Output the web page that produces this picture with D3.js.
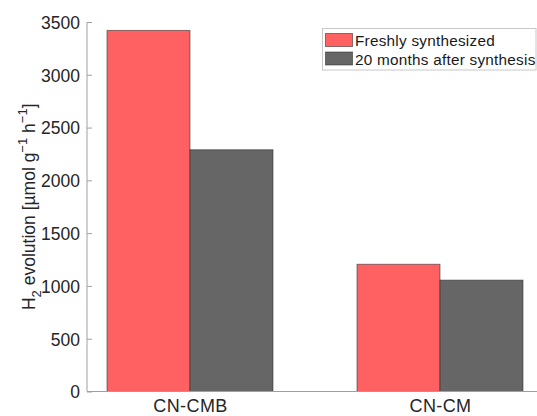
<!DOCTYPE html>
<html>
<head>
<meta charset="utf-8">
<script src="https://cdn.jsdelivr.net/npm/d3@7"></script>
<style>
  html, body { margin: 0; padding: 0; background: #fff; }
  svg { display: block; font-family: "Liberation Sans", Arial, Helvetica, sans-serif; }
</style>
</head>
<body>
<svg id="chart" width="537" height="416"></svg>
<script>
// Samples and their H2 evolution rates (µmol g^-1 h^-1)
const categories = ["CN-CMB", "CN-CM"];
const seriesNames = ["Freshly synthesized", "20 months after synthesis"];
const freshValues = [3420, 1205];
const agedValues = [2290, 1055];
const yTicks = [0, 500, 1000, 1500, 2000, 2500, 3000, 3500];
const seriesColors = ["#ff6163", "#666666"];

const svg = d3.select("#chart");
const plot = { left: 87, right: 537, top: 22, bottom: 391.5 };

// Category positions are 1, 2, ...; x scale in category units
const x = d3.scaleLinear().domain([0.588, 2.388]).range([plot.left, plot.right]);
const y = d3.scaleLinear().domain([0, 3500]).range([plot.bottom, plot.top]);

const barW = 0.332;
const series = [freshValues, agedValues];

// Bars
series.forEach((vals, si) => {
  svg.append("g")
    .selectAll("rect")
    .data(vals)
    .join("rect")
    .attr("x", (d, i) => x(i + 1 + (si - 1) * barW))
    .attr("width", x(barW) - x(0))
    .attr("y", d => y(d))
    .attr("height", d => y(0) - y(d))
    .attr("fill", seriesColors[si])
    .attr("stroke", "rgba(40,40,40,0.55)")
    .attr("stroke-width", 1);
});

// Y axis with inward ticks
const yAxis = d3.axisRight(y).tickValues(yTicks).tickSize(5).tickFormat(d3.format("d"));
const gy = svg.append("g").attr("transform", `translate(${plot.left},0)`).call(yAxis);
gy.select(".domain").attr("stroke", "#a0a0a0").attr("d", `M0,${plot.top}V${plot.bottom}`);
gy.selectAll(".tick line").attr("stroke", "#a0a0a0");
gy.selectAll(".tick text")
  .attr("x", -7)
  .attr("dy", "0.36em")
  .attr("text-anchor", "end")
  .attr("fill", "#262626")
  .style("font-size", "17.5px");

// X axis
const xAxis = d3.axisBottom(x).tickValues([1, 2]).tickSize(0).tickFormat((d) => categories[d - 1]);
const gx = svg.append("g").attr("transform", `translate(0,${plot.bottom})`).call(xAxis);
gx.select(".domain").attr("stroke", "#a0a0a0").attr("d", `M${plot.left},0H${plot.right}`);
gx.selectAll(".tick text")
  .attr("y", 8)
  .attr("dy", "0.71em")
  .attr("fill", "#262626")
  .style("font-size", "18px")
  .style("letter-spacing", "0.4px");

// Y axis title with subscript and superscripts, centred on the plot height
const yTitle = svg.append("text")
  .attr("transform", `translate(35,${(plot.top + plot.bottom) / 2}) rotate(-90)`)
  .attr("text-anchor", "middle")
  .attr("fill", "#262626")
  .style("font-size", "17.5px");
yTitle.append("tspan").text("H");
yTitle.append("tspan").attr("dy", 5.5).style("font-size", "13px").text("2");
yTitle.append("tspan").attr("dy", -5.5).text(" evolution [µmol g");
yTitle.append("tspan").attr("dy", -8).style("font-size", "13px").text("−1");
yTitle.append("tspan").attr("dy", 8).text(" h");
yTitle.append("tspan").attr("dy", -8).style("font-size", "13px").text("−1");
yTitle.append("tspan").attr("dy", 8).text("]");

// Legend
const legend = svg.append("g");
legend.append("rect")
  .attr("x", 322.5).attr("y", 28.5)
  .attr("width", 213.5).attr("height", 41.5)
  .attr("fill", "#fff").attr("stroke", "#c8c8c8").attr("stroke-width", 1);
seriesNames.forEach((name, i) => {
  const yy = 33.5 + i * 18.5;
  legend.append("rect")
    .attr("x", 325.5).attr("y", yy)
    .attr("width", 27).attr("height", 13)
    .attr("fill", seriesColors[i])
    .attr("stroke", "rgba(40,40,40,0.55)").attr("stroke-width", 1);
  legend.append("text")
    .attr("x", 355).attr("y", yy + 12.5)
    .attr("fill", "#1a1a1a")
    .style("font-size", "15.3px")
    .style("letter-spacing", "0.25px")
    .text(name);
});
</script>
</body>
</html>
